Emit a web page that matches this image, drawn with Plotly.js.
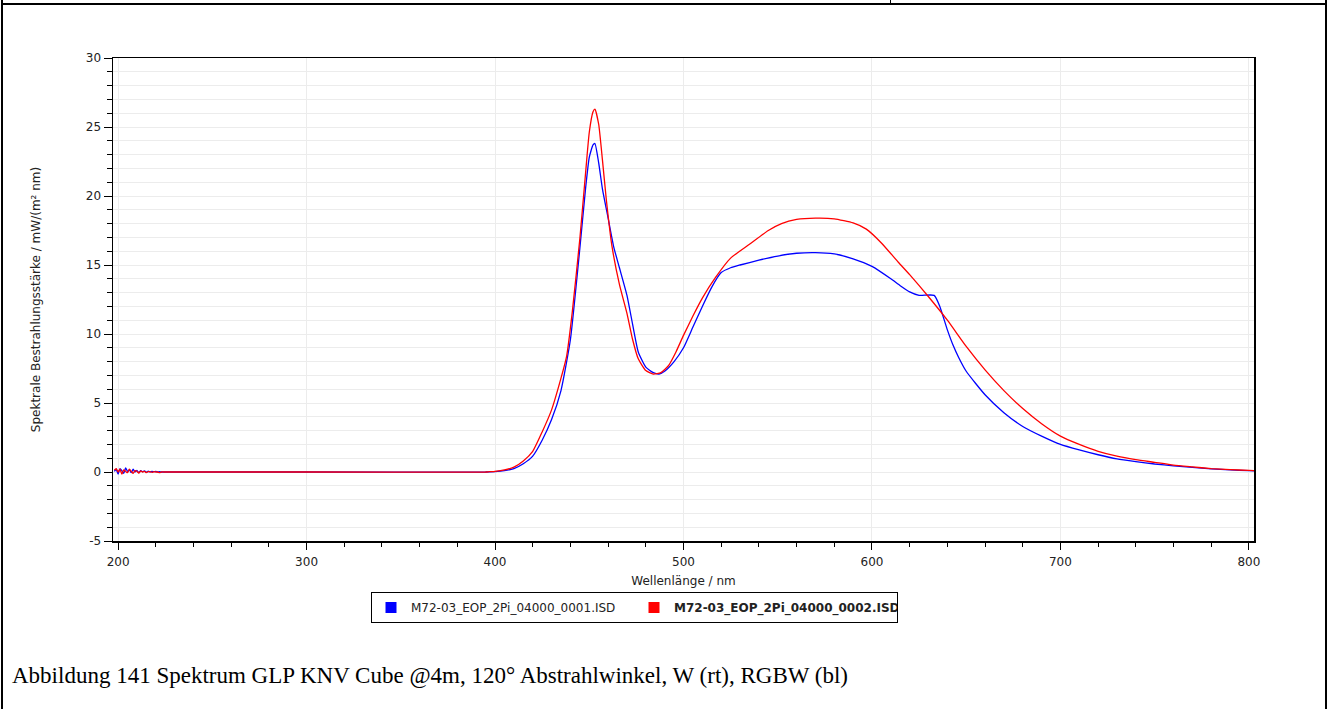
<!DOCTYPE html>
<html><head><meta charset="utf-8">
<script src="https://cdn.plot.ly/plotly-3.0.1.min.js"></script>
<style>
html,body{margin:0;padding:0;background:#fff;}
#wrap{position:relative;width:1329px;height:709px;overflow:hidden;background:#fff;}
#chart{position:absolute;left:0;top:0;width:1329px;height:709px;}
.frame{position:absolute;background:#000;}
</style></head><body>
<div id="wrap">
<div id="chart"></div>
<div class="frame" style="left:1px;top:0px;width:2px;height:709px"></div>
<div class="frame" style="left:1325px;top:0px;width:2px;height:709px"></div>
<div class="frame" style="left:1px;top:3px;width:1326px;height:2px"></div>
<div class="frame" style="left:890px;top:0px;width:1px;height:4px"></div>
</div>
<script>
// ---- data ----
const seriesNames = ['M72-03_EOP_2Pi_04000_0001.ISD', 'M72-03_EOP_2Pi_04000_0002.ISD'];
const seriesColors = ['#0000ff', '#ff0000'];

const wlBlue = [198,199,200,201,202,203,204,205,206,207,208,209,210,211,212,213,214,215,216,217,218,219,220,221,222,223,
  225,300,395,400,405,410,415,420,425,430,435,440,445,448,450,452,453,455,457,460,463,466,470,473,476,480,484,487,490,495,
  500,505,510,515,520,525,530,540,550,560,570,580,590,600,610,615,620,625,633,636,640,643,646,650,660,670,680,690,700,
  710,720,730,740,750,760,770,780,790,800,803];
const valBlue = [0.05,0.2,-0.15,0.25,0.1,-0.1,0.3,0.05,0.15,-0.05,0.2,0.0,0.12,-0.05,0.1,0.02,0.08,-0.02,0.06,0.0,0.05,0.02,0.04,0.0,0.03,0.0,
  0,0,0,0.03,0.1,0.25,0.6,1.15,2.3,3.8,5.9,9.6,16.2,20.5,22.8,23.7,23.8,22.4,20.5,18.4,16.3,14.8,12.8,10.7,8.7,7.6,7.2,7.1,7.3,8.0,
  9.0,10.5,12.0,13.4,14.45,14.8,15.0,15.35,15.65,15.85,15.9,15.8,15.45,14.9,14.0,13.5,13.05,12.8,12.8,12.0,10.3,9.2,8.3,7.3,5.6,4.3,3.3,2.6,2.0,
  1.6,1.25,0.95,0.75,0.58,0.45,0.33,0.23,0.15,0.1,0.08];

const wlRed = [198,199,200,201,202,203,204,205,206,207,208,209,210,211,212,213,214,215,216,217,218,219,220,221,222,223,
  225,300,395,397,400,405,410,415,420,425,430,435,438,441,445,448,450,452,453,455,457,459,462,466,470,473,476,480,484,488,492,496,
  500,505,510,517,525,535,545,552,560,570,580,590,597,605,614,620,630,640,650,660,670,680,690,700,
  710,720,730,740,750,760,770,780,790,800,803];
const valRed = [0.15,0.25,0.0,0.2,-0.15,0.15,0.05,-0.05,0.2,0.05,-0.1,0.1,0.05,-0.08,0.08,0.0,0.05,-0.05,0.03,0.02,-0.03,0.02,0.0,0.0,-0.05,0.0,
  0,0,0,0.02,0.05,0.15,0.35,0.8,1.5,2.9,4.5,6.8,8.4,11.6,16.9,21.6,24.6,26.1,26.3,25.2,22.6,19.8,16.4,13.6,11.5,9.6,8.2,7.35,7.1,7.2,7.7,8.7,
  9.9,11.3,12.6,14.1,15.5,16.5,17.5,18.0,18.3,18.4,18.35,18.05,17.6,16.6,15.2,14.3,12.7,11.0,9.1,7.4,5.9,4.6,3.5,2.6,
  2.0,1.5,1.15,0.9,0.7,0.5,0.37,0.25,0.17,0.12,0.1];

const xTickVals = [200,300,400,500,600,700,800];
const xTickText = ['200','300','400','500','600','700','800'];
const yTickVals = [-5,0,5,10,15,20,25,30];
const yTickText = ['-5','0','5','10','15','20','25','30'];

const xTitle = 'Wellenlänge / nm';
const yTitle = 'Spektrale Bestrahlungsstärke / mW/(m² nm)';
const caption = 'Abbildung 141 Spektrum GLP KNV Cube @4m, 120° Abstrahlwinkel, W (rt), RGBW (bl)';

// ---- layout helpers ----
const W = 1329, H = 709;
const L = 113, R = 1254, T = 58, B = 541;
const px2x = p => (p - L) / (R - L);
const px2y = p => (B - p) / (B - T);

const font = 'DejaVu Sans, Verdana, sans-serif';
const fs = 12;

const traces = [
  {x: wlBlue, y: valBlue, type: 'scatter', mode: 'lines', line: {color: seriesColors[0], width: 1.3, shape: 'spline', smoothing: 0.5},
   showlegend: false, legendgroup: 'a', hoverinfo: 'skip'},
  {x: wlRed, y: valRed, type: 'scatter', mode: 'lines', line: {color: seriesColors[1], width: 1.3, shape: 'spline', smoothing: 0.5},
   showlegend: false, legendgroup: 'b', hoverinfo: 'skip'},
  {x: [null], y: [null], type: 'scatter', mode: 'markers', name: seriesNames[0], legendgroup: 'a',
   marker: {symbol: 'square', size: 11, color: seriesColors[0]}},
  {x: [null], y: [null], type: 'scatter', mode: 'markers', name: '<b>' + seriesNames[1] + '</b>', legendgroup: 'b',
   marker: {symbol: 'square', size: 11, color: seriesColors[1]}}
];

const layout = {
  width: W, height: H,
  margin: {l: L, r: W - R, t: T, b: H - B, pad: 0},
  paper_bgcolor: 'rgba(0,0,0,0)', plot_bgcolor: '#ffffff',
  font: {family: font, size: fs, color: '#222'},
  showlegend: true,
  legend: {
    orientation: 'h', x: px2x(371), xanchor: 'left', y: px2y(592), yanchor: 'top',
    bordercolor: '#000', borderwidth: 1, bgcolor: '#fff',
    font: {family: font, size: fs, color: '#222'}, itemwidth: 30,
    entrywidth: 218, entrywidthmode: 'pixels'
  },
  xaxis: {
    range: [197.3, 802.7], tickmode: 'array', tickvals: xTickVals, ticktext: xTickText,
    ticks: 'outside', ticklen: 7, tickwidth: 1, tickcolor: '#000', ticklabelstandoff: 2,
    showline: true, linecolor: '#000', linewidth: 1.5, mirror: true,
    showgrid: true, gridcolor: '#ececec', gridwidth: 1, zeroline: false,
    tickfont: {family: font, size: fs, color: '#222'},
    minor: {tickmode: 'linear', tick0: 200, dtick: 20, ticks: 'outside', ticklen: 4, tickcolor: '#000', showgrid: false},
    title: {text: xTitle, font: {family: font, size: fs, color: '#222'}, standoff: 8}
  },
  yaxis: {
    range: [-5, 30], tickmode: 'array', tickvals: yTickVals, ticktext: yTickText,
    ticks: 'outside', ticklen: 8, tickwidth: 1, tickcolor: '#000',
    showline: true, linecolor: '#000', linewidth: 1.5, mirror: true,
    showgrid: true, gridcolor: '#ececec', gridwidth: 1, zeroline: false,
    tickfont: {family: font, size: fs, color: '#222'},
    minor: {tickmode: 'linear', tick0: 0, dtick: 1, ticks: 'outside', ticklen: 5, tickcolor: '#000', showgrid: true, gridcolor: '#ececec', gridwidth: 1},
    title: {text: yTitle, font: {family: font, size: fs, color: '#222'}, standoff: 42}
  },
  annotations: [
    {text: caption, xref: 'paper', yref: 'paper', x: px2x(10), y: px2y(675), xanchor: 'left', yanchor: 'middle',
     showarrow: false, font: {family: 'Liberation Serif, Times New Roman, serif', size: 23, color: '#000'}}
  ]
};

Plotly.newPlot('chart', traces, layout, {staticPlot: true, displayModeBar: false});
</script>
</body></html>
